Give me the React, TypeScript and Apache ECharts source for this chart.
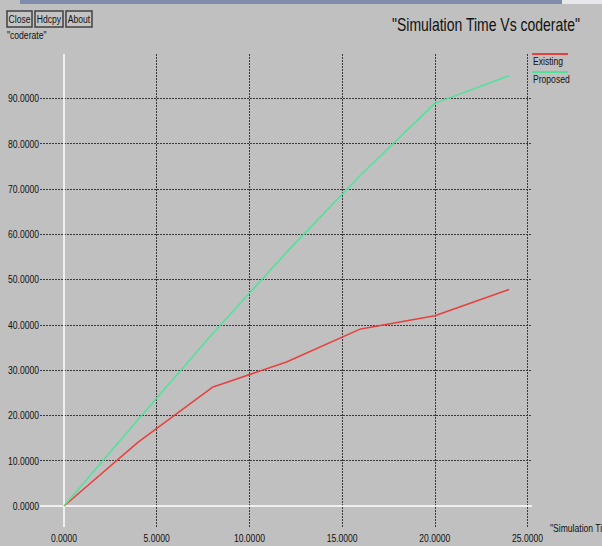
import React, { useEffect, useRef } from "react";
import * as echarts from "echarts";

const simTime = [0, 4, 8, 12, 16, 20, 24];
const existing = [0, 14.1, 26.2, 31.8, 39.1, 42.0, 47.8];
const proposed = [0, 19.1, 38.0, 56.0, 73.1, 88.9, 95.0];
const seriesNames = ["Existing", "Proposed"];
const xTicks = [0, 5, 10, 15, 20, 25];
const yTicks = [0, 10, 20, 30, 40, 50, 60, 70, 80, 90];
const buttons = ["Close", "Hdcpy", "About"];

const FONT = "'Liberation Sans', Arial, sans-serif";
const SX = 0.78;
const RED = "#e8403c";
const GREEN = "#4fe39a";

const X_MIN = -1.294;
const X_MAX = 25.24;
const Y_MIN = -4.64;
const Y_MAX = 99.8;

export default function App() {
  const ref = useRef<HTMLDivElement>(null);
  useEffect(() => {
    document.body.style.margin = "0";
    const chart = echarts.init(ref.current!, null, { renderer: "svg" });
    const gridLine = { color: "#3a3a3a", width: 1, type: [2, 1] as any };
    chart.setOption({
      animation: false,
      backgroundColor: "#c0c0c0",
      grid: { left: 40, right: 70, top: 54, bottom: 19 },
      xAxis: {
        type: "value",
        min: X_MIN,
        max: X_MAX,
        axisLine: { show: false },
        axisTick: { show: false },
        splitLine: { show: false },
        axisLabel: { show: false },
      },
      yAxis: {
        type: "value",
        min: Y_MIN,
        max: Y_MAX,
        axisLine: { show: false },
        axisTick: { show: false },
        splitLine: { show: false },
        axisLabel: { show: false },
      },
      series: [
        {
          type: "line",
          data: [],
          silent: true,
          markLine: {
            silent: true,
            symbol: "none",
            label: { show: false },
            animation: false,
            data: [
              ...xTicks.filter((v) => v !== 0).map((v) => ({ xAxis: v, lineStyle: gridLine })),
              ...yTicks.filter((v) => v !== 0).map((v) => ({ yAxis: v, lineStyle: gridLine })),
              { xAxis: 0, lineStyle: { color: "#ffffff", width: 1.5, type: "solid" } },
              { yAxis: 0, lineStyle: { color: "#ffffff", width: 1.5, type: "solid" } },
            ],
          },
        },
        {
          name: seriesNames[0],
          type: "line",
          data: simTime.map((t, i) => [t, existing[i]]),
          showSymbol: false,
          lineStyle: { color: RED, width: 1.5 },
          itemStyle: { color: RED },
          z: 5,
        },
        {
          name: seriesNames[1],
          type: "line",
          data: simTime.map((t, i) => [t, proposed[i]]),
          showSymbol: false,
          lineStyle: { color: GREEN, width: 1.5 },
          itemStyle: { color: GREEN },
          z: 5,
        },
      ],
    });

    const txt = (text: string, x: number, y: number, size: number, align = "left", sx = SX) => ({
      type: "text",
      x,
      y,
      scaleX: sx,
      style: { text, font: `${size}px ${FONT}`, fill: "#111", align, verticalAlign: "middle" },
    });

    const btnX = [7, 35, 66];
    const btnW = [25, 28, 26];
    const graphics: any[] = [
      { type: "rect", shape: { x: 20, y: 0, width: 542, height: 4 }, style: { fill: "#7f8cab" } },
      { type: "rect", shape: { x: 562, y: 0, width: 40, height: 4 }, style: { fill: "#e8e8ec" } },
      ...buttons.map((b, i) => ({
        type: "group",
        children: [
          { type: "rect", shape: { x: btnX[i], y: 11, width: btnW[i], height: 16 }, style: { fill: "#c4c4c4", stroke: "#404040", lineWidth: 1.5 } },
          txt(b, btnX[i] + btnW[i] / 2, 19, 11, "center"),
        ],
      })),
      txt('"coderate"', 7, 35, 11),
      txt('"Simulation Time Vs coderate"', 392, 25, 17.5, "left", 0.8),
      txt('"Simulation Time"', 550, 528, 11),
      ...seriesNames.map((n, i) => ({
        type: "group",
        children: [
          { type: "line", shape: { x1: 532, y1: 54 + i * 18, x2: 568, y2: 54 + i * 18 }, style: { stroke: i === 0 ? RED : GREEN, lineWidth: 2 } },
          txt(n, 533, 61 + i * 18, 11),
        ],
      })),
    ];
    xTicks.forEach((v) => {
      const p = chart.convertToPixel({ gridIndex: 0 }, [v, Y_MIN]) as number[];
      graphics.push(txt(v.toFixed(4), p[0], p[1] + 11, 11, "center"));
    });
    yTicks.forEach((v) => {
      const p = chart.convertToPixel({ gridIndex: 0 }, [X_MIN, v]) as number[];
      graphics.push(txt(v.toFixed(4), p[0] - 1, p[1], 11, "right"));
    });
    chart.setOption({ graphic: graphics });
    return () => chart.dispose();
  }, []);
  return <div ref={ref} style={{ width: 602, height: 546 }} />;
}
